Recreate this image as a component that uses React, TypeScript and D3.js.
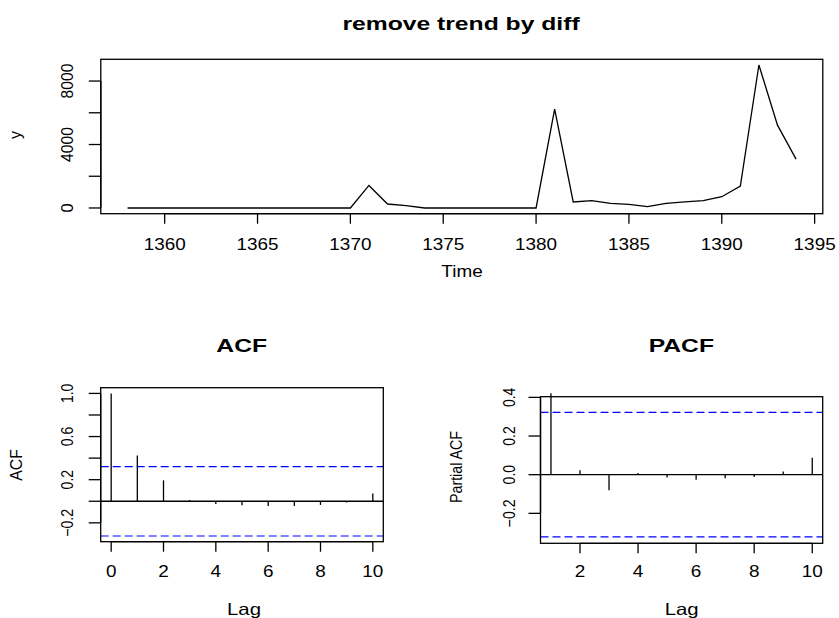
import React from 'react';
import * as d3 from 'd3';

// differenced series, 1358..1394
const years = [
  1358, 1359, 1360, 1361, 1362, 1363, 1364, 1365, 1366, 1367, 1368, 1369, 1370,
  1371, 1372, 1373, 1374, 1375, 1376, 1377, 1378, 1379, 1380, 1381, 1382, 1383,
  1384, 1385, 1386, 1387, 1388, 1389, 1390, 1391, 1392, 1393, 1394,
];
const values = [
  0, 0, 0, 0, 0, 0, 0, 0, 0, 0, 0, 0, 0,
  1420, 250, 150, 0, 0, 0, 0, 0, 0, 0, 6230, 380, 460,
  290, 225, 80, 290, 380, 460, 710, 1380, 9010, 5220, 3080,
];
const yearTicks = [1360, 1365, 1370, 1375, 1380, 1385, 1390, 1395];
const yTicks = [0, 2000, 4000, 6000, 8000];
const yLabels = [0, 4000, 8000];

const acfLags = [0, 1, 2, 3, 4, 5, 6, 7, 8, 9, 10];
const acfValues = [1.0, 0.425, 0.194, 0.012, -0.025, -0.037, -0.043, -0.043, -0.034, -0.012, 0.071];
const acfTicks = [-0.2, 0, 0.2, 0.4, 0.6, 0.8, 1.0];
const acfLabels = [-0.2, 0.2, 0.6, 1.0];
const acfXTicks = [0, 2, 4, 6, 8, 10];

const pacfLags = [1, 2, 3, 4, 5, 6, 7, 8, 9, 10];
const pacfValues = [0.421, 0.023, -0.081, 0.009, -0.015, -0.026, -0.019, -0.012, 0.016, 0.088];
const pacfTicks = [-0.2, 0, 0.2, 0.4];
const pacfXTicks = [2, 4, 6, 8, 10];

const ci = 0.322;

const font = '"Liberation Sans", Arial, sans-serif';

// rotated labels in the picture are squeezed: approx width per glyph
const vLen = (s: string) =>
  s.split('').reduce((w, c) => w + (c === '.' ? 2 : c === '-' ? 9 : 8.7), 0);

const HText = ({ x, y, sx = 1.16, size = 16.3, bold = false, children }: any) => (
  <text
    transform={`translate(${x},${y}) scale(${sx},1)`}
    textAnchor="middle"
    fontFamily={font}
    fontSize={size}
    fontWeight={bold ? 'bold' : 'normal'}
    fill="#000"
  >
    {children}
  </text>
);

const VText = ({ x, y, size = 16.3, len, children }: any) => (
  <text
    transform={`translate(${x},${y}) rotate(-90)`}
    textAnchor="middle"
    fontFamily={font}
    fontSize={size}
    fill="#000"
    {...(len ? { textLength: len, lengthAdjust: 'spacingAndGlyphs' } : {})}
  >
    {children}
  </text>
);

const Box = ({ x, y }: any) => {
  const [x0, x1] = x.range();
  const [y0, y1] = y.range();
  return (
    <rect
      x={x0}
      y={y1}
      width={x1 - x0}
      height={y0 - y1}
      fill="none"
      stroke="#000"
      strokeWidth={1.3}
    />
  );
};

const LeftAxis = ({ x, y, ticks, labels, fmt, labelX }: any) => {
  const x0 = x.range()[0];
  return (
    <g>
      <line x1={x0} x2={x0} y1={y(ticks[0])} y2={y(ticks[ticks.length - 1])} stroke="#000" strokeWidth={1.3} />
      {ticks.map((t: number) => (
        <line key={t} x1={x0 - 12} x2={x0} y1={y(t)} y2={y(t)} stroke="#000" strokeWidth={1.3} />
      ))}
      {labels.map((t: number) => {
        const s = fmt(t);
        return (
          <VText key={t} x={labelX} y={y(t)} len={s.length > 1 ? vLen(s) : undefined}>
            {s}
          </VText>
        );
      })}
    </g>
  );
};

const BottomAxis = ({ x, y, ticks, labelY, fmt = String }: any) => {
  const y0 = y.range()[0];
  return (
    <g>
      <line x1={x(ticks[0])} x2={x(ticks[ticks.length - 1])} y1={y0} y2={y0} stroke="#000" strokeWidth={1.3} />
      {ticks.map((t: number) => (
        <line key={t} x1={x(t)} x2={x(t)} y1={y0} y2={y0 + 10} stroke="#000" strokeWidth={1.3} />
      ))}
      {ticks.map((t: number) => (
        <HText key={t} x={x(t)} y={labelY}>
          {fmt(t)}
        </HText>
      ))}
    </g>
  );
};

const Correlogram = ({ x, y, lags, vals }: any) => {
  const [x0, x1] = x.range();
  return (
    <g>
      <line x1={x0} x2={x1} y1={y(0)} y2={y(0)} stroke="#000" strokeWidth={1.3} />
      {lags.map((l: number, i: number) => (
        <line key={l} x1={x(l)} x2={x(l)} y1={y(0)} y2={y(vals[i])} stroke="#000" strokeWidth={1.3} />
      ))}
      {[ci, -ci].map((c) => (
        <line key={c} x1={x0} x2={x1} y1={y(c)} y2={y(c)} stroke="#0000ff" strokeWidth={1.2} strokeDasharray="8,4" />
      ))}
    </g>
  );
};

export default function App() {
  // top: time series
  const tx = d3.scaleLinear().domain([1356.56, 1395.44]).range([100.8, 822.8]);
  const ty = d3.scaleLinear().domain([-360.4, 9370.4]).range([213.7, 59.3]);
  const line = d3
    .line<number>()
    .x((d, i) => tx(years[i]))
    .y((d) => ty(d));

  // ACF
  const ax = d3.scaleLinear().domain([-0.4, 10.4]).range([100.7, 383.3]);
  const ay = d3.scaleLinear().domain([-0.375, 1.053]).range([541.7, 387.7]);

  // PACF
  const px = d3.scaleLinear().domain([0.64, 10.36]).range([540.5, 822.7]);
  const py = d3.scaleLinear().domain([-0.355, 0.4035]).range([543.3, 396.7]);

  const f1 = d3.format('.1f');

  return (
    <svg width={839} height={618} style={{ position: 'absolute', left: 0, top: 0, background: '#fff' }}>
      <rect width={839} height={618} fill="#fff" />

      {/* top panel */}
      <HText x={461} y={30} size={19} sx={1.3} bold>
        remove trend by diff
      </HText>
      <path d={line(values) || ''} fill="none" stroke="#000" strokeWidth={1.3} />
      <Box x={tx} y={ty} />
      <LeftAxis x={tx} y={ty} ticks={yTicks} labels={yLabels} fmt={String} labelX={73.3} />
      <BottomAxis x={tx} y={ty} ticks={yearTicks} labelY={250} />
      <HText x={462} y={277}>
        Time
      </HText>
      <VText x={20.5} y={135}>
        y
      </VText>

      {/* ACF panel */}
      <HText x={241.7} y={351.7} size={19} sx={1.3} bold>
        ACF
      </HText>
      <Correlogram x={ax} y={ay} lags={acfLags} vals={acfValues} />
      <Box x={ax} y={ay} />
      <LeftAxis x={ax} y={ay} ticks={acfTicks} labels={acfLabels} fmt={f1} labelX={73.3} />
      <BottomAxis x={ax} y={ay} ticks={acfXTicks} labelY={577} />
      <HText x={244} y={615} sx={1.25}>
        Lag
      </HText>
      <VText x={21.7} y={465} len={31.7}>
        ACF
      </VText>

      {/* PACF panel */}
      <HText x={681.3} y={351.7} size={19} sx={1.3} bold>
        PACF
      </HText>
      <Correlogram x={px} y={py} lags={pacfLags} vals={pacfValues} />
      <Box x={px} y={py} />
      <LeftAxis x={px} y={py} ticks={pacfTicks} labels={pacfTicks} fmt={f1} labelX={515} />
      <BottomAxis x={px} y={py} ticks={pacfXTicks} labelY={577} />
      <HText x={681.7} y={615} sx={1.25}>
        Lag
      </HText>
      <VText x={461.7} y={467} len={72}>
        Partial ACF
      </VText>
    </svg>
  );
}
